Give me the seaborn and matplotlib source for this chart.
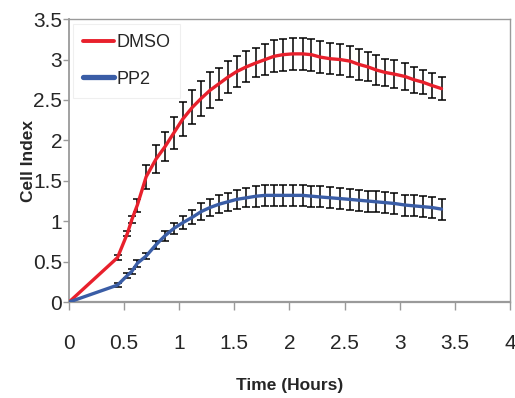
import numpy as np
import pandas as pd
import matplotlib
matplotlib.use("Agg")
import matplotlib.pyplot as plt
import seaborn as sns

# Time points (hours)
hours = [0, 0.44, 0.53, 0.57, 0.62, 0.70, 0.79, 0.87, 0.95, 1.03, 1.12, 1.20,
         1.28, 1.36, 1.44, 1.52, 1.61, 1.70, 1.78, 1.86, 1.94, 2.03, 2.12, 2.20,
         2.28, 2.37, 2.46, 2.55, 2.63, 2.71, 2.79, 2.87, 2.95, 3.05, 3.13, 3.21,
         3.29, 3.38]

# Cell index, DMSO
dmso = [0, 0.55, 0.85, 1.02, 1.20, 1.55, 1.77, 1.92, 2.09, 2.26, 2.41, 2.52,
        2.62, 2.70, 2.78, 2.85, 2.91, 2.96, 3.00, 3.04, 3.06, 3.07, 3.07, 3.06,
        3.03, 3.01, 3.00, 2.98, 2.94, 2.91, 2.87, 2.84, 2.82, 2.79, 2.75, 2.72,
        2.68, 2.64]
dmso_err = [0, 0.03, 0.03, 0.04, 0.08, 0.15, 0.17, 0.18, 0.20, 0.21, 0.21, 0.22,
            0.22, 0.20, 0.20, 0.19, 0.19, 0.18, 0.19, 0.20, 0.20, 0.20, 0.20, 0.20,
            0.20, 0.19, 0.19, 0.19, 0.19, 0.18, 0.18, 0.17, 0.17, 0.17, 0.16, 0.15,
            0.15, 0.14]

# Cell index, PP2
pp2 = [0, 0.21, 0.33, 0.38, 0.48, 0.57, 0.71, 0.82, 0.91, 0.98, 1.05, 1.12,
       1.17, 1.21, 1.24, 1.27, 1.29, 1.31, 1.32, 1.32, 1.32, 1.32, 1.32, 1.31,
       1.30, 1.29, 1.28, 1.27, 1.26, 1.25, 1.24, 1.23, 1.22, 1.20, 1.19, 1.18,
       1.17, 1.15]
pp2_err = [0, 0.02, 0.03, 0.03, 0.04, 0.04, 0.05, 0.06, 0.07, 0.08, 0.09, 0.10,
           0.10, 0.11, 0.11, 0.12, 0.12, 0.13, 0.13, 0.13, 0.13, 0.13, 0.13, 0.13,
           0.13, 0.13, 0.13, 0.13, 0.13, 0.13, 0.13, 0.13, 0.13, 0.13, 0.13, 0.13,
           0.13, 0.13]

x_ticks = [0, 0.5, 1, 1.5, 2, 2.5, 3, 3.5, 4]
y_ticks = [0, 0.5, 1, 1.5, 2, 2.5, 3, 3.5]

df = pd.DataFrame({
    "Time": hours * 2,
    "Cell Index": dmso + pp2,
    "err": dmso_err + pp2_err,
    "Treatment": ["DMSO"] * len(hours) + ["PP2"] * len(hours),
})

sns.set_style("white")
plt.rcParams["font.family"] = ["Liberation Sans", "DejaVu Sans"]

palette = {"DMSO": "#e8202c", "PP2": "#3a5da6"}
widths = {"DMSO": 2.2, "PP2": 3.2}

fig, ax = plt.subplots(figsize=(5.15, 3.98), dpi=100)
fig.subplots_adjust(left=0.134, right=0.990, bottom=0.241, top=0.952)

# error bars under the lines
for name, grp in df.groupby("Treatment"):
    g = grp[grp["err"] > 0]
    ax.errorbar(g["Time"], g["Cell Index"], yerr=g["err"], fmt="none",
                ecolor="black", elinewidth=1.1, capsize=3.2, capthick=1.1, zorder=2)

sns.lineplot(data=df, x="Time", y="Cell Index", hue="Treatment", palette=palette,
             errorbar=None, ax=ax, zorder=3, linewidth=2.4)
for line, name in zip(ax.get_lines(), ["DMSO", "PP2"]):
    line.set_linewidth(widths[name])

ax.set_xlim(0, 4)
ax.set_ylim(0, 3.5)
ax.set_xticks(x_ticks)
ax.set_xticklabels([f"{v:g}" for v in x_ticks])
ax.set_yticks(y_ticks)
ax.set_yticklabels([f"{v:g}" for v in y_ticks])

for s in ax.spines.values():
    s.set_color("#9a9a9a")
    s.set_linewidth(1.0)
ax.spines["bottom"].set_linewidth(1.6)
ax.spines["left"].set_linewidth(1.3)

ax.tick_params(axis="x", direction="out", length=6, width=1.0, color="#9a9a9a",
               pad=17, labelsize=15)
ax.tick_params(axis="y", direction="out", length=4, width=1.0, color="#9a9a9a",
               pad=1, labelsize=15)
ax.xaxis.set_ticks_position("bottom")
ax.yaxis.set_ticks_position("left")

ax.set_xlabel("Time (Hours)", fontsize=12.5, fontweight="bold", labelpad=18)
ax.set_ylabel("Cell Index", fontsize=12.5, fontweight="bold")
ax.yaxis.set_label_coords(-0.076, 0.5)

leg = ax.legend(loc="upper left", fontsize=13, frameon=True, handlelength=1.7,
                handletextpad=0.15, labelspacing=1.1, borderpad=0.55,
                borderaxespad=0, bbox_to_anchor=(0.009, 0.983), fancybox=False)
leg.get_frame().set_edgecolor("#ececec")
leg.get_frame().set_linewidth(0.8)
for h, name in zip(leg.get_lines(), ["DMSO", "PP2"]):
    h.set_linewidth(widths[name] + 0.6)

fig.savefig("out.png", dpi=100)
